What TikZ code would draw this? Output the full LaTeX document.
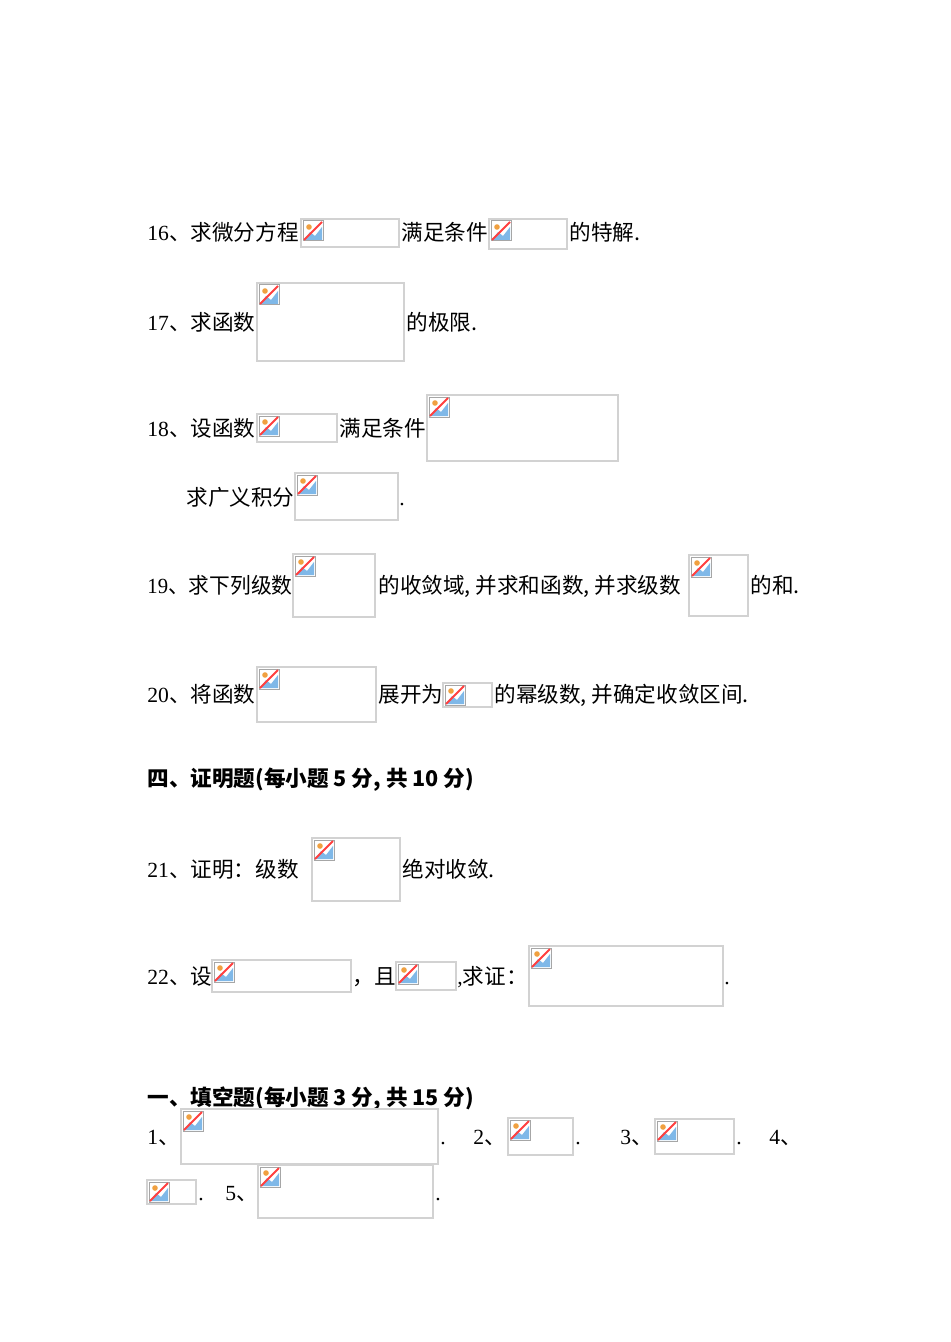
\documentclass[tikz,border=0pt]{standalone}
\usepackage{fontspec}
\setmainfont{Liberation Serif}
\newfontfamily\cjk{Noto Sans CJK SC}
\definecolor{frm}{HTML}{D2D2D2}
\definecolor{sky}{HTML}{7FB8E8}
\definecolor{sun}{HTML}{F0A040}
\begin{document}
\begin{tikzpicture}[x=0.5pt,y=-0.5pt,
  txt/.style={anchor=base west,inner sep=0pt,font=\fontsize{10.8pt}{13pt}\selectfont}]
\fill[white] (0,0) rectangle (950,1342);
\useasboundingbox (0,0) rectangle (950,1342);
\newcommand\bimg[4]{%
  \draw[frm,line width=0.6pt] (#1,#2) rectangle (#3,#4);
  \begin{scope}[shift={(#1+2,#2+2)}]
    \draw[gray!70,fill=white,line width=0.5pt] (0,0) rectangle (20,20);
    \fill[sky] (1,19) -- (7,11) -- (12,15) -- (19,6) -- (19,19) -- cycle;
    \fill[sun] (6,6) circle (2.8);
    \draw[red!75,line width=1pt] (1,19) -- (19,1);
  \end{scope}}
\newcommand\tx[3]{\node[txt] at (#1,#2+8) {#3};}
% 16
\tx{147}{233}{16\cjk{、求微分方程}}
\bimg{301}{219}{399}{247}
\tx{401}{233}{\cjk{满足条件}}
\bimg{489}{219}{567}{249}
\tx{569}{233}{\cjk{的特解}.}
% 17
\tx{147}{322}{17\cjk{、求函数}}
\bimg{257}{283}{404}{361}
\tx{406}{322}{\cjk{的极限}.}
% 18
\tx{147}{428}{18\cjk{、设函数}}
\bimg{257}{414}{337}{442}
\tx{339}{428}{\cjk{满足条件}}
\bimg{427}{395}{618}{461}
\tx{186}{497}{\cjk{求广义积分}}
\bimg{295}{473}{398}{520}
\tx{399}{497}{.}
% 19
\node[txt,xscale=0.96] at (147,593) {19\cjk{、求下列级数}};
\bimg{293}{554}{375}{617}
\tx{378}{585}{\cjk{的收敛域}, \cjk{并求和函数}, \cjk{并求级数}}
\bimg{689}{555}{748}{616}
\tx{750}{585}{\cjk{的和}.}
% 20
\tx{147}{694}{20\cjk{、将函数}}
\bimg{257}{667}{376}{722}
\tx{378}{694}{\cjk{展开为}}
\bimg{443}{683}{492}{707}
\tx{494}{694}{\cjk{的幂级数}, \cjk{并确定收敛区间}.}
% heading
\tx{147}{778}{\cjk\bfseries 四、证明题(每小题 5 分, 共 10 分)}
% 21
\tx{147}{869}{21\cjk{、证明：级数}}
\bimg{312}{838}{400}{901}
\tx{402}{869}{\cjk{绝对收敛}.}
% 22
\tx{147}{976}{22\cjk{、设}}
\bimg{212}{960}{351}{992}
\tx{352}{976}{\cjk{，且}}
\bimg{396}{962}{456}{990}
\tx{457}{976}{,\cjk{求证：}}
\bimg{529}{946}{723}{1006}
\tx{724}{976}{.}
% heading
\tx{147}{1097}{\cjk\bfseries 一、填空题(每小题 3 分, 共 15 分)}
\tx{147}{1136}{1\cjk{、}}
\bimg{181}{1109}{438}{1164}
\tx{440}{1136}{.}
\tx{473}{1136}{2\cjk{、}}
\bimg{508}{1118}{573}{1155}
\tx{575}{1136}{.}
\tx{620}{1136}{3\cjk{、}}
\bimg{655}{1119}{734}{1154}
\tx{736}{1136}{.}
\tx{769}{1136}{4\cjk{、}}
\bimg{147}{1180}{196}{1204}
\tx{198}{1192}{.}
\tx{225}{1192}{5\cjk{、}}
\bimg{258}{1165}{433}{1218}
\tx{435}{1192}{.}
\end{tikzpicture}
\end{document}
